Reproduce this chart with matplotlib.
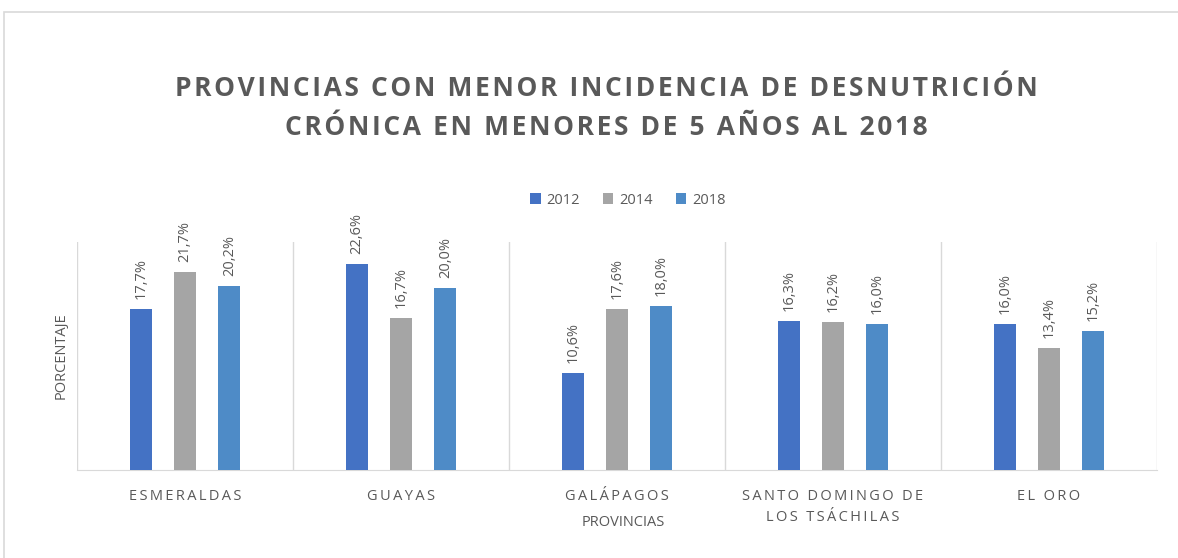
#!/usr/bin/env python3
import numpy as np
import matplotlib
matplotlib.use('Agg')
import matplotlib.pyplot as plt
from matplotlib.patches import Rectangle

provincias = ['ESMERALDAS', 'GUAYAS', 'GALÁPAGOS', 'SANTO DOMINGO DE\nLOS TSÁCHILAS', 'EL ORO']
years = ['2012', '2014', '2018']
v2012 = [17.7, 22.6, 10.6, 16.3, 16.0]
v2014 = [21.7, 16.7, 17.6, 16.2, 13.4]
v2018 = [20.2, 20.0, 18.0, 16.0, 15.2]
colors = ['#4472C4', '#A5A5A5', '#4E8BC7']
titulo = 'PROVINCIAS CON MENOR INCIDENCIA DE DESNUTRICIÓN\nCRÓNICA EN MENORES DE 5 AÑOS AL 2018'

gray = '#595959'
plt.rcParams['font.family'] = ['Open Sans', 'DejaVu Sans']


def spread(s, sep):
    return '\n'.join(sep.join(line) for line in s.split('\n'))


fig = plt.figure(figsize=(11.78, 5.58), dpi=100)
# chart frame
fig.patches.append(Rectangle((4 / 1178, -0.1), 1.2, (546 / 558) + 0.1, transform=fig.transFigure,
                             fill=False, edgecolor='#d9d9d9', lw=1.2))

ax = fig.add_axes([77 / 1178, 88 / 558, 1080 / 1178, 228 / 558])
x = np.arange(len(provincias))
w = 0.1
off = 0.205
for i, (vals, yr) in enumerate(zip([v2012, v2014, v2018], years)):
    bars = ax.bar(x + (i - 1) * off, vals, w, color=colors[i], label=yr, zorder=3)
    for b, v in zip(bars, vals):
        ax.text(b.get_x() + b.get_width() / 2, v + 1.1, f'{v:.1f}%'.replace('.', ','),
                rotation=90, ha='center', va='bottom', color=gray, fontsize=10.5)

ax.set_xlim(-0.5, len(provincias) - 0.5)
ax.set_ylim(0, 25)
ax.set_yticks([])
for xv in np.arange(-0.5, len(provincias), 1):
    ax.axvline(xv, color='#d9d9d9', lw=1, zorder=1)
for s in ['top', 'right', 'left']:
    ax.spines[s].set_visible(False)
ax.spines['bottom'].set_color('#d9d9d9')
ax.tick_params(axis='x', length=0, pad=14)
ax.set_xticks(x)
ax.set_xticklabels([spread(p, '\u2009') for p in provincias], color=gray, fontsize=10.5, linespacing=1.5)

ax.set_ylabel('PORCENTAJE', color=gray, fontsize=10.5, labelpad=6)
fig.text(623 / 1178, 1 - 522 / 558, 'PROVINCIAS', ha='center', va='center', color=gray, fontsize=10.5)

fig.text(606 / 1178, 1 - 108 / 558, spread(titulo, '\u200a'),
         ha='center', va='center', color=gray, fontsize=19, fontweight='bold', linespacing=1.6)

fig.legend(loc='center', bbox_to_anchor=(628 / 1178, 1 - 200 / 558), ncol=3, frameon=False,
           handlelength=0.7, handleheight=0.7, columnspacing=1.6, handletextpad=0.4,
           labelcolor=gray, fontsize=10.5)

fig.savefig('out.png', dpi=100)
